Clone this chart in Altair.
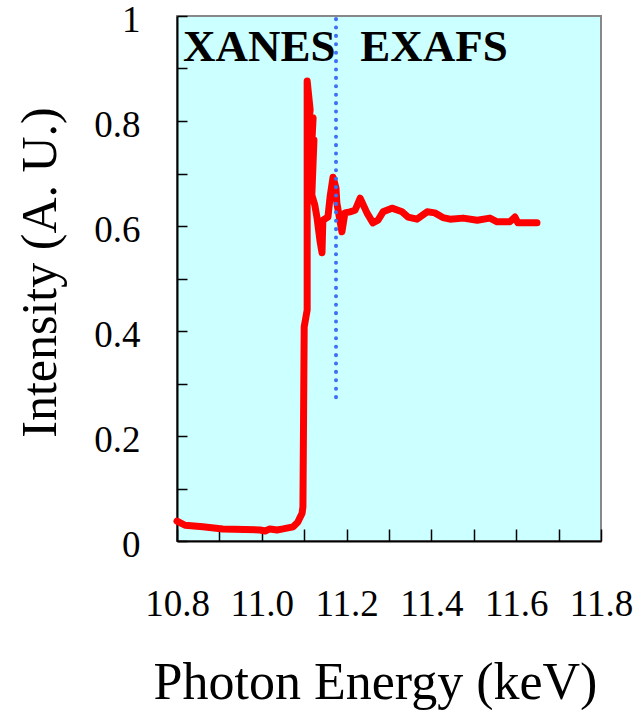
import altair as alt
import pandas as pd

# Absorption spectrum (photon energy in keV, normalised intensity)
energy = [10.800, 10.819, 10.861, 10.908, 10.996, 11.008, 11.019, 11.036, 11.050,
          11.074, 11.085, 11.095, 11.097, 11.100, 11.107, 11.107, 11.114, 11.109,
          11.121, 11.116, 11.123, 11.118, 11.125, 11.130, 11.137, 11.142, 11.144,
          11.156, 11.161, 11.168, 11.175, 11.177, 11.189, 11.196, 11.208, 11.220,
          11.232, 11.248, 11.262, 11.274, 11.286, 11.307, 11.331, 11.345, 11.366,
          11.390, 11.408, 11.427, 11.444, 11.475, 11.508, 11.538, 11.555, 11.585,
          11.597, 11.604, 11.649]
intensity = [0.038, 0.030, 0.027, 0.023, 0.021, 0.019, 0.023, 0.021, 0.023,
             0.027, 0.036, 0.053, 0.065, 0.408, 0.440, 0.876, 0.821, 0.783,
             0.806, 0.726, 0.764, 0.659, 0.640, 0.617, 0.573, 0.549, 0.611,
             0.617, 0.655, 0.693, 0.672, 0.644, 0.589, 0.625, 0.627, 0.630,
             0.653, 0.625, 0.606, 0.611, 0.627, 0.634, 0.627, 0.617, 0.613,
             0.627, 0.625, 0.616, 0.613, 0.615, 0.611, 0.615, 0.608, 0.608,
             0.617, 0.606, 0.606]

# Boundary between the XANES and EXAFS regions
boundary_energy = [11.175]
boundary_low = [0.274]
boundary_high = [1.0]

region_names = ["XANES", "EXAFS"]
region_x = [10.814, 11.232]
region_y = [0.914, 0.914]

x_label_values = [10.8, 11.0, 11.2, 11.4, 11.6, 11.8]
x_tick_values = [10.8, 10.9, 11.0, 11.1, 11.2, 11.3, 11.4, 11.5, 11.6, 11.7, 11.8]
y_label_values = [0, 0.2, 0.4, 0.6, 0.8, 1]
y_tick_values = [0, 0.1, 0.2, 0.3, 0.4, 0.5, 0.6, 0.7, 0.8, 0.9, 1.0]

spectrum = pd.DataFrame({"energy": energy, "intensity": intensity,
                         "idx": list(range(len(energy)))})
boundary = pd.DataFrame({"energy": boundary_energy, "lo": boundary_low, "hi": boundary_high})
regions = pd.DataFrame({"name": region_names, "energy": region_x, "intensity": region_y})

FONT = "Liberation Serif"
xs = alt.Scale(domain=[10.8, 11.8], nice=False, zero=False)
ys = alt.Scale(domain=[0, 1], nice=False, zero=True)

# Axes carrying labels, titles and the black left/bottom frame lines
x_label_axis = alt.Axis(orient="bottom", values=x_label_values, format=".1f", ticks=False,
                        grid=False, domain=True, domainColor="black", domainWidth=2,
                        labelFont=FONT, labelFontSize=37, labelColor="black",
                        labelPadding=63, labelBaseline="middle", labelFlush=False,
                        title="Photon Energy (keV)", titleFont=FONT, titleFontSize=52,
                        titleFontWeight="normal", titleColor="black",
                        titleX=198, titleY=157, titleBaseline="alphabetic")
y_label_axis = alt.Axis(orient="left", values=y_label_values, format="~g", ticks=False,
                        grid=False, domain=True, domainColor="black", domainWidth=2,
                        labelFont=FONT, labelFontSize=37, labelColor="black",
                        labelPadding=37, labelBaseline="middle", labelFlush=False,
                        labelOverlap=False, labelOffset=4,
                        title="Intensity (A. U.)", titleFont=FONT, titleFontSize=50,
                        titleFontWeight="normal", titleColor="black",
                        titleX=-137, titleY=256, titleBaseline="middle", titleAngle=270)

# Axes drawn from the opposite side and shifted onto the frame so ticks point inward
x_tick_axis = alt.Axis(orient="top", offset=-525, values=x_tick_values, labels=False,
                       domain=False, grid=False, ticks=True, tickSize=12,
                       tickColor="black", tickWidth=1.5, title=None)
y_tick_axis = alt.Axis(orient="right", offset=-424, values=y_tick_values, labels=False,
                       domain=False, grid=False, ticks=True, tickSize=10,
                       tickColor="black", tickWidth=1.5, title=None)

tick_layer = alt.Chart(spectrum).mark_point(opacity=0).encode(
    x=alt.X("energy:Q", scale=xs, axis=x_tick_axis),
    y=alt.Y("intensity:Q", scale=ys, axis=y_tick_axis),
)

line = alt.Chart(spectrum).mark_line(
    color="#FF0000", strokeWidth=7, strokeCap="round", strokeJoin="round"
).encode(
    x=alt.X("energy:Q", scale=xs, axis=x_label_axis),
    y=alt.Y("intensity:Q", scale=ys, axis=y_label_axis),
    order="idx:O",
)

divider = alt.Chart(boundary).mark_rule(
    color="#3F6FF5", strokeWidth=4, strokeDash=[0.1, 8.3], strokeCap="round"
).encode(
    x=alt.X("energy:Q", scale=xs, axis=None),
    y=alt.Y("lo:Q", scale=ys, axis=None),
    y2="hi:Q",
)

labels = alt.Chart(regions).mark_text(
    font=FONT, fontSize=45, fontWeight="bold", color="black",
    align="left", baseline="alphabetic"
).encode(
    x=alt.X("energy:Q", scale=xs, axis=None),
    y=alt.Y("intensity:Q", scale=ys, axis=None),
    text="name:N",
)

chart = alt.layer(tick_layer, line, divider, labels).resolve_axis(
    x="independent", y="independent"
).properties(
    width=424, height=525,
    autosize=alt.AutoSizeParams(type="none"),
    padding={"left": 177, "top": 16, "right": 40, "bottom": 169},
    background="white",
).configure_view(
    stroke="#888888", strokeWidth=2, fill="#CCFFFF"
)

chart.save("out.html", embed_options={"renderer": "svg", "actions": False})
